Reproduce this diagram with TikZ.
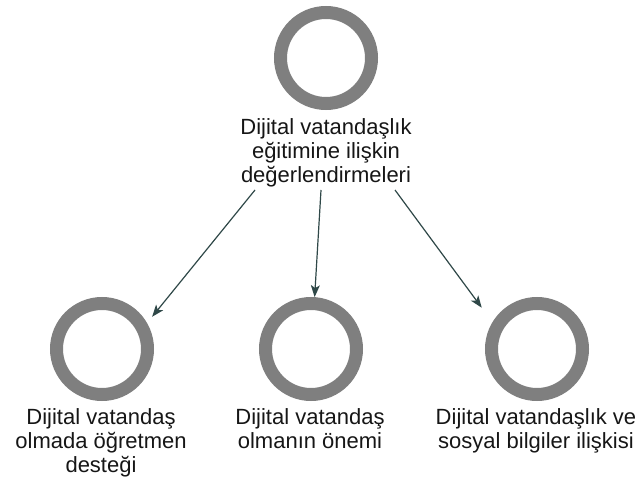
\documentclass[tikz,border=0pt]{standalone}
\usepackage{fontspec}
\setmainfont{Liberation Sans}
\usetikzlibrary{arrows.meta}
\definecolor{ringgray}{RGB}{127,127,127}
\definecolor{linkcol}{RGB}{47,72,72}
\definecolor{txtcol}{RGB}{22,22,22}
\tikzset{
  ring/.style={circle, draw=ringgray, line width=13pt, minimum size=91pt, inner sep=0pt},
  % anchor=base sits on the baseline of the last line
  caption/.style={align=center, inner sep=0pt, anchor=base, text=txtcol,
    font=\fontsize{22pt}{24pt}\selectfont},
  link/.style={draw=linkcol, line width=1.2pt,
    -{Stealth[length=12pt, width=9pt, inset=3pt]}}
}
\begin{document}
\begin{tikzpicture}[x=1pt, y=-1pt]
  \useasboundingbox (0,0) rectangle (640,481);

  % central topic
  \node[ring] (top) at (326,58) {};
  \node[caption] (topcap) at (326,183) {Dijital vatandaşlık\\eğitimine ilişkin\\değerlendirmeleri};

  % sub-topics
  \node[ring] (ringL) at (102,349) {};
  \node[ring] (ringM) at (311,349) {};
  \node[ring] (ringR) at (537,349) {};
  \node[caption] (capL) at (101,472) {Dijital vatandaş\\olmada öğretmen\\desteği};
  \node[caption] (capM) at (310,448) {Dijital vatandaş\\olmanın önemi};
  \node[caption] (capR) at (536,448) {Dijital vatandaşlık ve\\sosyal bilgiler ilişkisi};

  % connector start points under the central caption
  \coordinate (o1) at (255,190);
  \coordinate (o2) at (321,190);
  \coordinate (o3) at (395,190);

  \draw[link, shorten >=8pt] (o1) -- (ringL.30);
  \draw[link] (o2) -- (ringM.86);
  \draw[link, shorten >=18pt] (o3) -- (ringR.149);
\end{tikzpicture}
\end{document}
